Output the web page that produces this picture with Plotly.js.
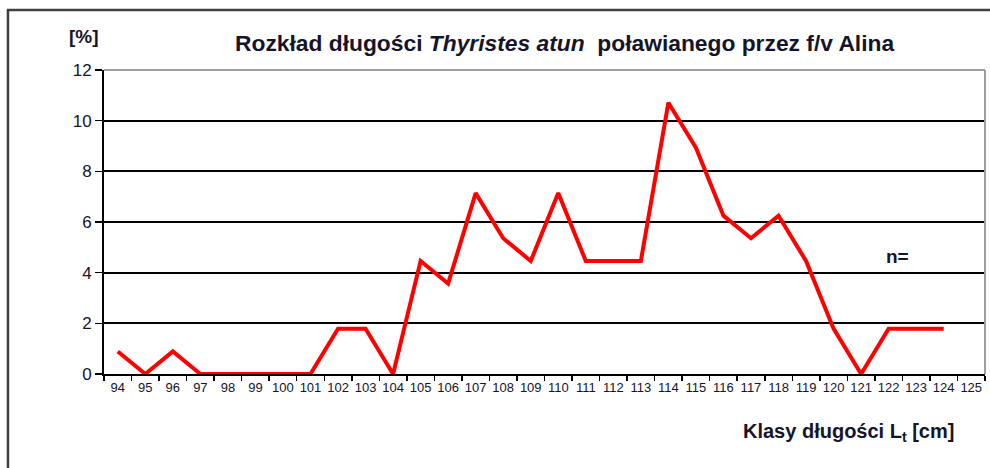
<!DOCTYPE html>
<html>
<head>
<meta charset="utf-8">
<script src="https://cdn.plot.ly/plotly-3.0.1.min.js"></script>
<style>html,body{margin:0;padding:0;background:#fff;}#chart{width:990px;height:468px;}</style>
</head>
<body>
<div id="chart"></div>
<script>
const categories = ['94','95','96','97','98','99','100','101','102','103','104','105','106','107','108','109','110','111','112','113','114','115','116','117','118','119','120','121','122','123','124','125'];
const percent = [0.89,0,0.89,0,0,0,0,0,1.79,1.79,0,4.46,3.57,7.14,5.36,4.46,7.14,4.46,4.46,4.46,10.71,8.93,6.25,5.36,6.25,4.46,1.79,0,1.79,1.79,1.79,null];
const yTicks = [0,2,4,6,8,10,12];
const chartTitle = '<b>Rozkład długości <i>Thyristes atun</i>  poławianego przez f/v Alina</b>';
const yLabel = '<b>[%]</b>';
const xLabel = '<b>Klasy długości L<sub>t</sub> [cm]</b>';
const nLabel = '<b>n=</b>';

const FONT = 'Liberation Sans, Arial, sans-serif';
const TXT = '#14142a';

const trace = {
  x: categories,
  y: percent,
  type: 'scatter',
  mode: 'lines',
  line: {color: '#ff0000', width: 4},
  connectgaps: false,
  hoverinfo: 'skip'
};

const layout = {
  width: 990, height: 468,
  margin: {l: 104, r: 5, t: 70, b: 94, pad: 0},
  paper_bgcolor: '#fff', plot_bgcolor: '#fff',
  showlegend: false,
  font: {family: FONT, color: TXT},
  xaxis: {
    type: 'category',
    range: [-0.5, 31.5],
    tickson: 'boundaries',
    ticks: 'outside', ticklen: 5, tickwidth: 1.5, tickcolor: '#000',
    showline: true, linecolor: '#000', linewidth: 2,
    showgrid: false, zeroline: false,
    tickangle: 0,
    tickfont: {family: FONT, size: 13, color: TXT},
    fixedrange: true
  },
  yaxis: {
    range: [0, 12],
    tickmode: 'array', tickvals: yTicks, ticktext: yTicks.map(String),
    ticks: 'outside', ticklen: 7, tickwidth: 1.5, tickcolor: '#000',
    showline: true, linecolor: '#000', linewidth: 2,
    showgrid: true, gridcolor: '#000', gridwidth: 2,
    zeroline: false,
    tickfont: {family: FONT, size: 17, color: TXT},
    fixedrange: true
  },
  shapes: [
    {type: 'rect', xref: 'paper', yref: 'paper', x0: -0.109, x1: 1.05, y0: -0.4, y1: 1.197,
     line: {color: '#404040', width: 2.5}, fillcolor: 'rgba(0,0,0,0)', layer: 'below'},
    {type: 'line', xref: 'paper', yref: 'paper', x0: 0, x1: 1, y0: 1, y1: 1,
     line: {color: '#a0a0a0', width: 2}, layer: 'above'},
    {type: 'line', xref: 'paper', yref: 'paper', x0: 1, x1: 1, y0: 0, y1: 1,
     line: {color: '#a0a0a0', width: 2}, layer: 'above'}
  ],
  annotations: [
    {text: chartTitle, xref: 'paper', yref: 'paper', x: 0.523, y: 1.089, xanchor: 'center', yanchor: 'middle',
     showarrow: false, font: {family: FONT, size: 22.8, color: TXT}},
    {text: yLabel, xref: 'paper', yref: 'paper', x: -0.0227, y: 1.109, xanchor: 'center', yanchor: 'middle',
     showarrow: false, font: {family: FONT, size: 19, color: TXT}},
    {text: nLabel, xref: 'paper', yref: 'paper', x: 0.901, y: 0.385, xanchor: 'center', yanchor: 'middle',
     showarrow: false, font: {family: FONT, size: 19, color: TXT}},
    {text: xLabel, xref: 'paper', yref: 'paper', x: 0.8445, y: -0.191, xanchor: 'center', yanchor: 'middle',
     showarrow: false, font: {family: FONT, size: 20, color: TXT}}
  ]
};

Plotly.newPlot('chart', [trace], layout, {staticPlot: true, displayModeBar: false});
</script>
</body>
</html>
